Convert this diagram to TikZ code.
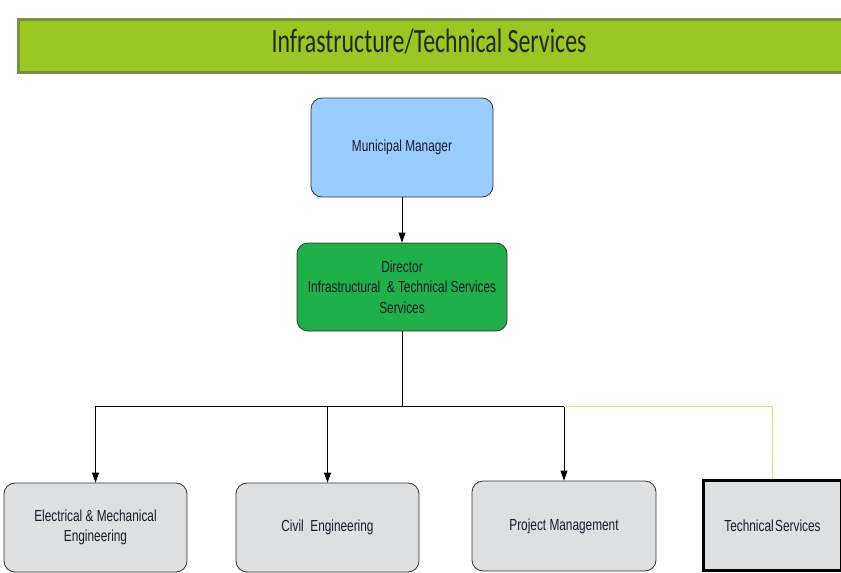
\documentclass[tikz,border=0pt]{standalone}
\usepackage{fontspec}
\setmainfont{Liberation Sans}
\newfontfamily\narrowfont[FakeStretch=0.74]{Liberation Sans}
\newfontfamily\titlefont[FakeStretch=0.70]{Carlito}
\usetikzlibrary{arrows.meta}
\definecolor{bannerfill}{HTML}{9BC724}
\definecolor{bannerline}{HTML}{76923C}
\definecolor{mmblue}{HTML}{99CCFF}
\definecolor{dirgreen}{HTML}{1FAF4B}
\definecolor{boxgray}{HTML}{DEDFE1}
\definecolor{paleyellow}{HTML}{D8E36E}
\definecolor{txt}{HTML}{1A1A2A}
\tikzset{
  box/.style={draw=black!80, line width=0.8pt, rounded corners=11pt, align=center,
    font=\narrowfont\fontsize{16}{20.5}\selectfont, text=txt, inner sep=2pt},
  arr/.style={draw=black, line width=0.8pt, -{Triangle[length=10pt,width=7pt]}},
  conn/.style={draw=black, line width=0.8pt},
  yel/.style={draw=paleyellow, line width=1pt}
}
\begin{document}
\begin{tikzpicture}[x=1pt,y=-1pt]
\useasboundingbox (0,0) rectangle (841,573);
\fill[white] (0,0) rectangle (841,573);
% banner
\node[draw=bannerline, fill=bannerfill, line width=2.5pt, minimum width=830pt, minimum height=53pt,
  inner sep=0pt, anchor=north west] (title) at (17,18) {};
\node[font=\titlefont\fontsize{34}{36}\selectfont, text=black!85] (titletext) at (429,41) {Infrastructure/Technical Services};
% boxes
\node[box, fill=mmblue, minimum width=182pt, minimum height=99pt] (mm) at (402,147.5) {Municipal Manager};
\node[box, fill=dirgreen, minimum width=210pt, minimum height=88pt] (dir) at (402,287)
  {Director\\Infrastructural\ \ \& Technical\ Services\\Services};
\node[box, fill=boxgray, minimum width=183pt, minimum height=89pt] (em) at (95.5,527.5)
  {Electrical \& Mechanical\\Engineering};
\node[box, fill=boxgray, minimum width=183pt, minimum height=89pt] (civil) at (327.5,527.5)
  {Civil\ \ Engineering};
\node[box, fill=boxgray, minimum width=184pt, minimum height=90pt] (pm) at (564,526)
  {Project Management};
\node[box, fill=boxgray, rounded corners=0pt, line width=3.5pt, draw=black, minimum width=138pt, minimum height=90pt] (ts) at (772.5,525.5)
  {Technical\hspace{1.5pt}Services};
% connectors
\coordinate (j) at (402,406);
\draw[arr] (mm.south) -- (dir.north);
\draw[conn] (dir.south) -- (j);
\draw[arr] (j) -| (em.north);
\draw[arr] (j) -| (pm.north);
\draw[arr] (civil.north |- j) -- (civil.north);
\draw[yel] (pm.north |- j) -| (ts.north);
\end{tikzpicture}
\end{document}
